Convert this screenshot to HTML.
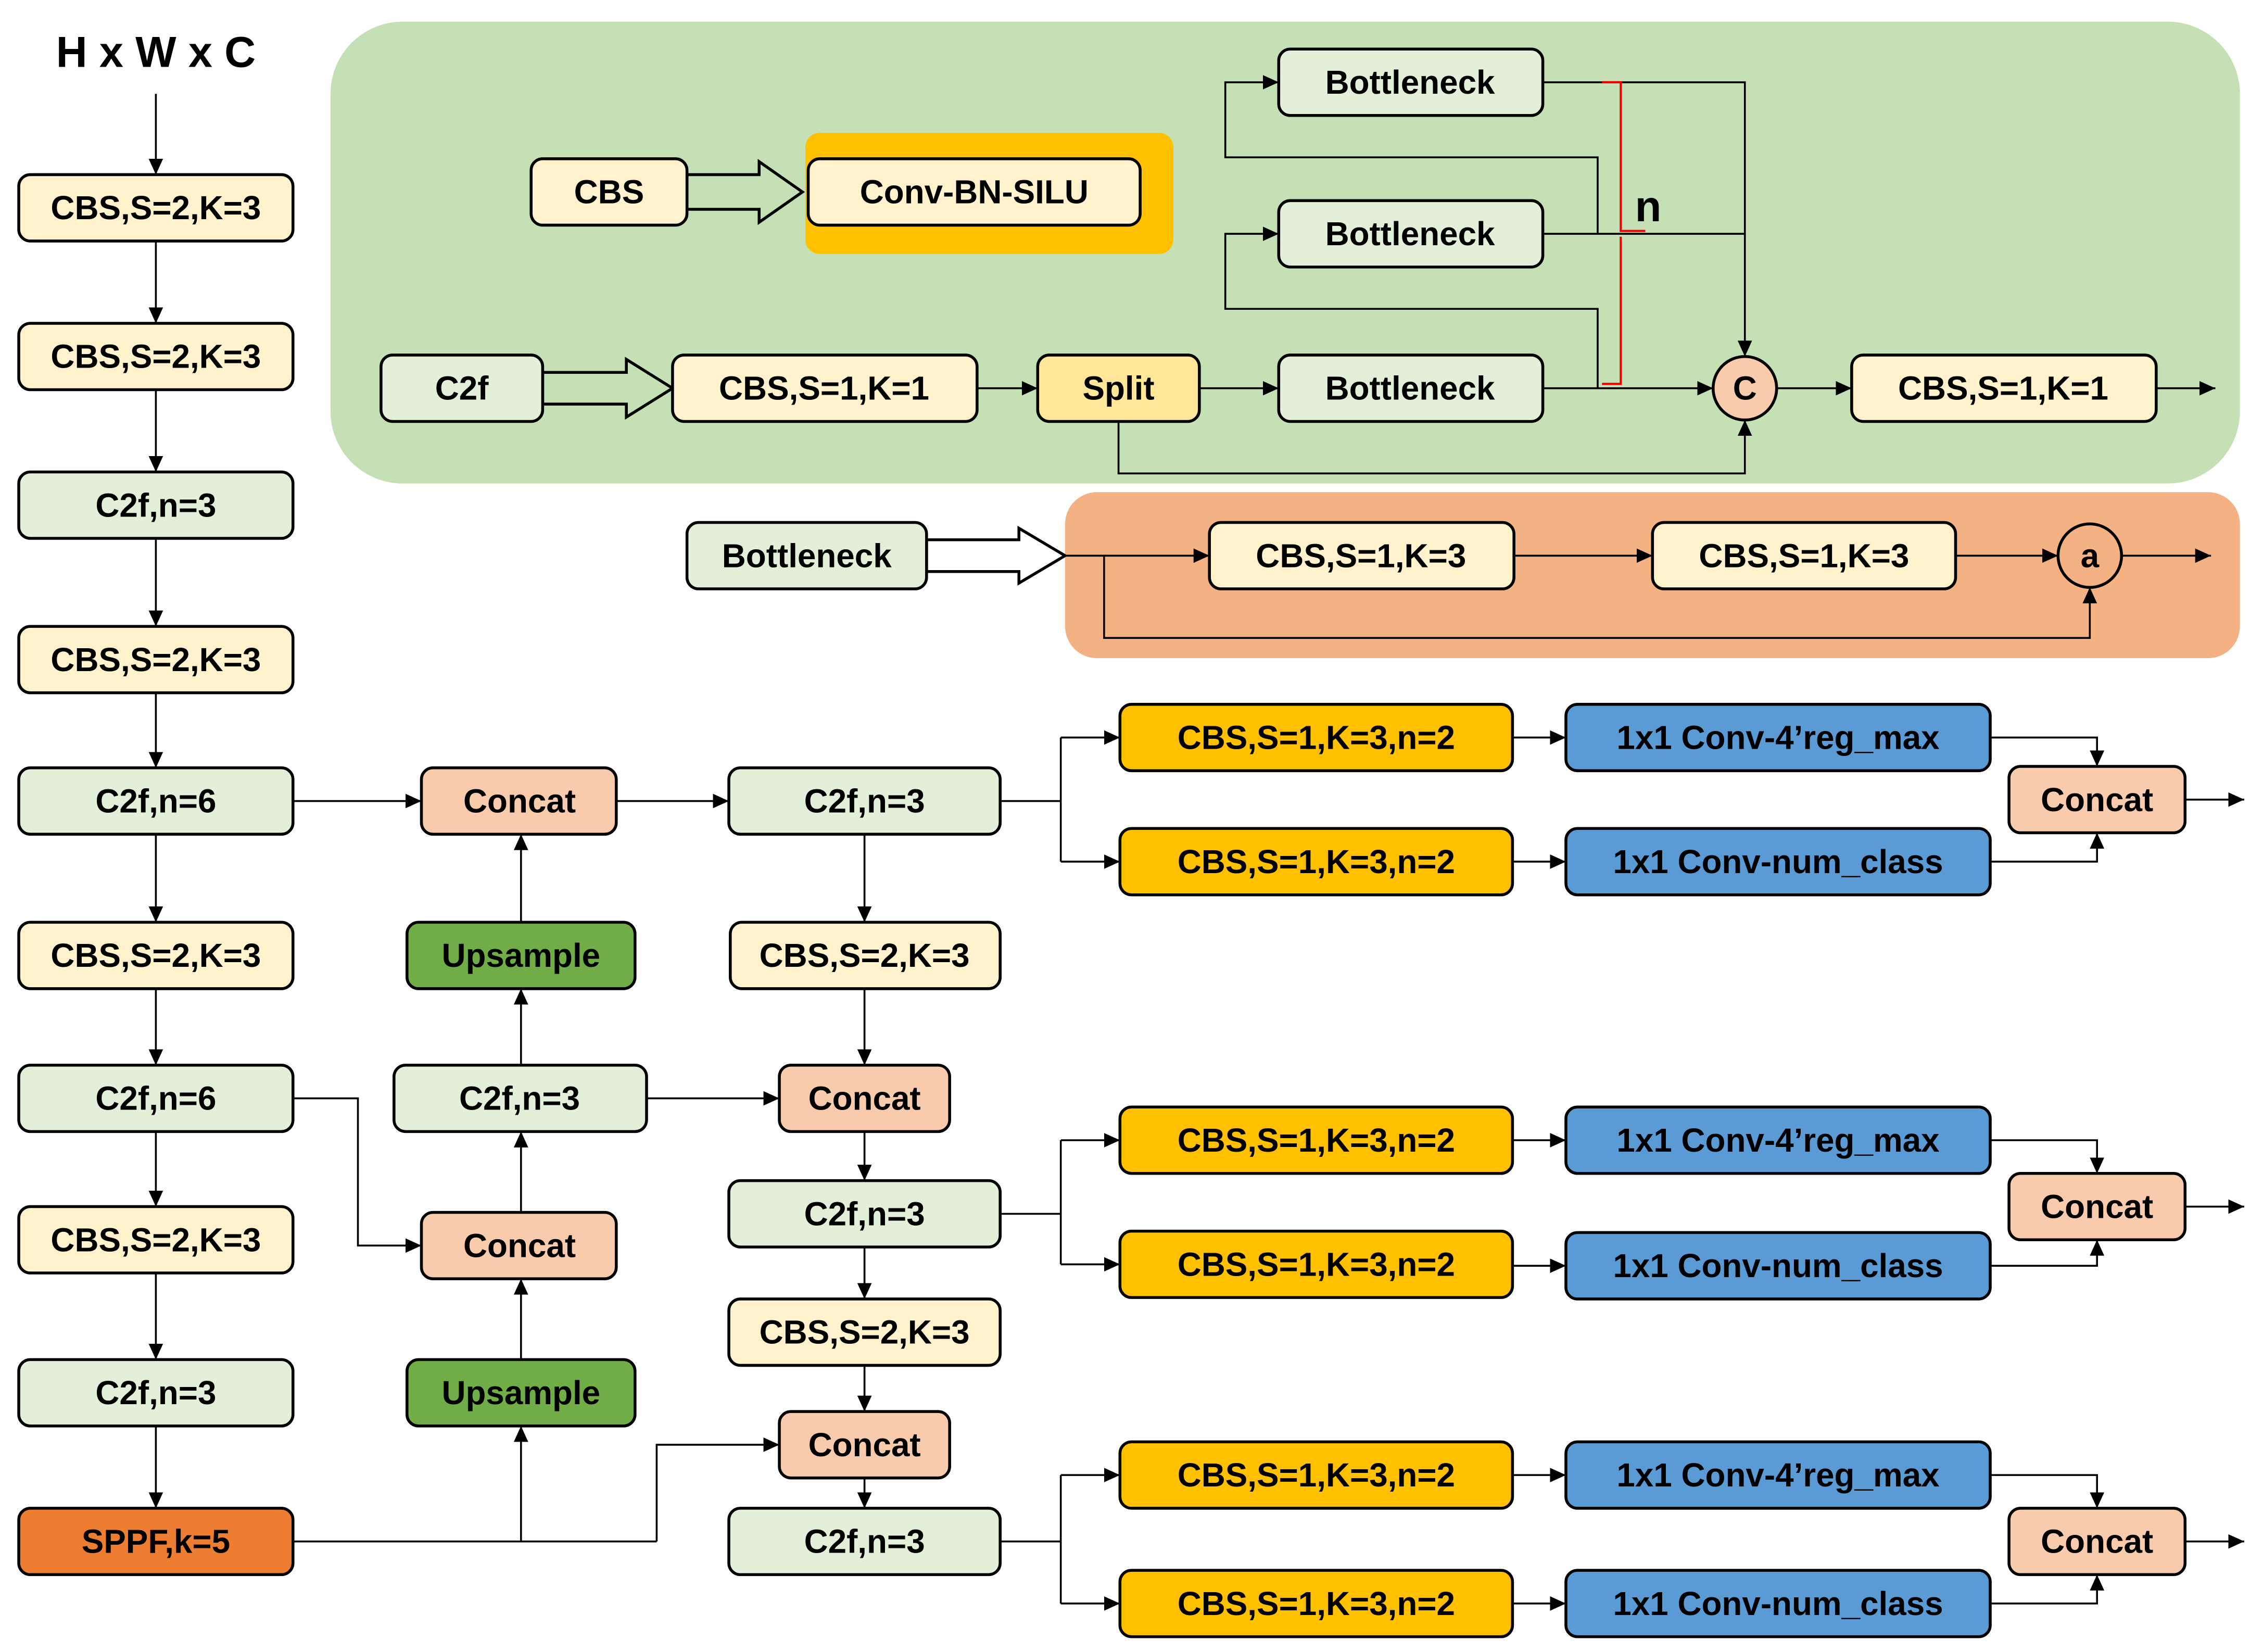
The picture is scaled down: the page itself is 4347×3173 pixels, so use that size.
<!DOCTYPE html>
<html><head><meta charset="utf-8"><style>
html,body{margin:0;padding:0;background:#fff;}
svg{display:block;}
text{font-family:"Liberation Sans",sans-serif;font-weight:bold;font-size:23px;fill:#000;text-anchor:middle;dominant-baseline:central;}
.b{stroke:#000;stroke-width:2;}
.l{stroke:#000;stroke-width:1.3;fill:none;}
</style></head><body>
<svg width="4347" height="3173" viewBox="0 0 1568 1144.6" preserveAspectRatio="none" xmlns="http://www.w3.org/2000/svg">
<defs>
<marker id="a" markerUnits="userSpaceOnUse" markerWidth="12" markerHeight="12" refX="11" refY="5" orient="auto"><path d="M0,0 L11,5 L0,10 z" fill="#000"/></marker>
</defs>
<rect width="1568" height="1145" fill="#fff"/>
<rect x="229" y="15" width="1323" height="320" rx="50" fill="#C5E0B4"/>
<rect x="738" y="341" width="814" height="115" rx="22" fill="#F4B183"/>
<rect x="558" y="92" width="255" height="84" rx="10" fill="#FFC000"/>

<text x="108" y="36" style="font-size:30px">H x W x C</text>

<g class="l">
<line x1="108" y1="65" x2="108" y2="121" marker-end="url(#a)"/>
<line x1="108" y1="167" x2="108" y2="224" marker-end="url(#a)"/>
<line x1="108" y1="270" x2="108" y2="327" marker-end="url(#a)"/>
<line x1="108" y1="373" x2="108" y2="434" marker-end="url(#a)"/>
<line x1="108" y1="480" x2="108" y2="532" marker-end="url(#a)"/>
<line x1="108" y1="578" x2="108" y2="639" marker-end="url(#a)"/>
<line x1="108" y1="685" x2="108" y2="738" marker-end="url(#a)"/>
<line x1="108" y1="784" x2="108" y2="836" marker-end="url(#a)"/>
<line x1="108" y1="882" x2="108" y2="942" marker-end="url(#a)"/>
<line x1="108" y1="988" x2="108" y2="1045" marker-end="url(#a)"/>
<line x1="677" y1="269" x2="719" y2="269" marker-end="url(#a)"/>
<line x1="831" y1="269" x2="886" y2="269" marker-end="url(#a)"/>
<line x1="1069" y1="269" x2="1187" y2="269" marker-end="url(#a)"/>
<polyline points="1069,57 1209,57 1209,247" marker-end="url(#a)"/>
<line x1="1069" y1="162" x2="1209" y2="162"/>
<polyline points="1107,162 1107,109 849,109 849,57 886,57" marker-end="url(#a)"/>
<polyline points="1107,269 1107,214 849,214 849,162 886,162" marker-end="url(#a)"/>
<polyline points="775,292 775,328 1209,328 1209,291" marker-end="url(#a)"/>
<line x1="1231" y1="269" x2="1283" y2="269" marker-end="url(#a)"/>
<line x1="1494" y1="269" x2="1535" y2="269" marker-end="url(#a)"/>
<line x1="738" y1="385" x2="838" y2="385" marker-end="url(#a)"/>
<line x1="1049" y1="385" x2="1145" y2="385" marker-end="url(#a)"/>
<line x1="1355" y1="385" x2="1426" y2="385" marker-end="url(#a)"/>
<line x1="1470" y1="385" x2="1532" y2="385" marker-end="url(#a)"/>
<polyline points="765,385 765,442 1448,442 1448,407" marker-end="url(#a)"/>
<line x1="203" y1="555" x2="292" y2="555" marker-end="url(#a)"/>
<line x1="427" y1="555" x2="505" y2="555" marker-end="url(#a)"/>
<line x1="361" y1="639" x2="361" y2="578" marker-end="url(#a)"/>
<line x1="361" y1="738" x2="361" y2="685" marker-end="url(#a)"/>
<line x1="448" y1="761" x2="540" y2="761" marker-end="url(#a)"/>
<polyline points="203,761 248,761 248,863 292,863" marker-end="url(#a)"/>
<line x1="361" y1="840" x2="361" y2="784" marker-end="url(#a)"/>
<line x1="361" y1="942" x2="361" y2="886" marker-end="url(#a)"/>
<line x1="203" y1="1068" x2="455" y2="1068"/>
<line x1="361" y1="1068" x2="361" y2="988" marker-end="url(#a)"/>
<polyline points="455,1068 455,1001 540,1001" marker-end="url(#a)"/>
<line x1="599" y1="578" x2="599" y2="639" marker-end="url(#a)"/>
<line x1="599" y1="685" x2="599" y2="738" marker-end="url(#a)"/>
<line x1="599" y1="784" x2="599" y2="818" marker-end="url(#a)"/>
<line x1="599" y1="864" x2="599" y2="900" marker-end="url(#a)"/>
<line x1="599" y1="946" x2="599" y2="978" marker-end="url(#a)"/>
<line x1="599" y1="1024" x2="599" y2="1045" marker-end="url(#a)"/>
<line x1="693" y1="555" x2="735" y2="555"/>
<line x1="735" y1="511" x2="735" y2="597"/>
<line x1="735" y1="511" x2="776" y2="511" marker-end="url(#a)"/>
<line x1="735" y1="597" x2="776" y2="597" marker-end="url(#a)"/>
<line x1="1048" y1="511" x2="1085" y2="511" marker-end="url(#a)"/>
<line x1="1048" y1="597" x2="1085" y2="597" marker-end="url(#a)"/>
<polyline points="1379,511 1453,511 1453,531" marker-end="url(#a)"/>
<polyline points="1379,597 1453,597 1453,577" marker-end="url(#a)"/>
<line x1="1514" y1="554" x2="1555" y2="554" marker-end="url(#a)"/>
<line x1="693" y1="841" x2="735" y2="841"/>
<line x1="735" y1="790" x2="735" y2="876"/>
<line x1="735" y1="790" x2="776" y2="790" marker-end="url(#a)"/>
<line x1="735" y1="876" x2="776" y2="876" marker-end="url(#a)"/>
<line x1="1048" y1="790" x2="1085" y2="790" marker-end="url(#a)"/>
<line x1="1048" y1="877" x2="1085" y2="877" marker-end="url(#a)"/>
<polyline points="1379,790 1453,790 1453,813" marker-end="url(#a)"/>
<polyline points="1379,877 1453,877 1453,859" marker-end="url(#a)"/>
<line x1="1514" y1="836" x2="1555" y2="836" marker-end="url(#a)"/>
<line x1="693" y1="1068" x2="735" y2="1068"/>
<line x1="735" y1="1022" x2="735" y2="1111"/>
<line x1="735" y1="1022" x2="776" y2="1022" marker-end="url(#a)"/>
<line x1="735" y1="1111" x2="776" y2="1111" marker-end="url(#a)"/>
<line x1="1048" y1="1022" x2="1085" y2="1022" marker-end="url(#a)"/>
<line x1="1048" y1="1111" x2="1085" y2="1111" marker-end="url(#a)"/>
<polyline points="1379,1022 1453,1022 1453,1045" marker-end="url(#a)"/>
<polyline points="1379,1111 1453,1111 1453,1091" marker-end="url(#a)"/>
<line x1="1514" y1="1068" x2="1555" y2="1068" marker-end="url(#a)"/>
</g>
<path d="M1110,57 L1123,57 L1123,160 L1140,160 M1123,164 L1123,266 L1110,266" stroke="#E00" stroke-width="1.5" fill="none"/>
<text x="1142" y="143" style="font-size:30px">n</text>

<g fill="#C5E0B4" stroke="#000" stroke-width="2">
<path d="M476,121 L526,121 L526,112 L556,133 L526,154 L526,145 L476,145 z"/>
<path d="M376,258 L434,258 L434,249 L466,269 L434,289 L434,280 L376,280 z"/>
</g>
<path d="M642,374 L706,374 L706,366 L738,385 L706,404 L706,396 L642,396 z" fill="#fff" stroke="#000" stroke-width="2"/>

<g class="b">
<rect x="13" y="121" width="190" height="46" rx="8" fill="#FFF2CC"/>
<rect x="13" y="224" width="190" height="46" rx="8" fill="#FFF2CC"/>
<rect x="13" y="327" width="190" height="46" rx="8" fill="#E2F0D9"/>
<rect x="13" y="434" width="190" height="46" rx="8" fill="#FFF2CC"/>
<rect x="13" y="532" width="190" height="46" rx="8" fill="#E2F0D9"/>
<rect x="13" y="639" width="190" height="46" rx="8" fill="#FFF2CC"/>
<rect x="13" y="738" width="190" height="46" rx="8" fill="#E2F0D9"/>
<rect x="13" y="836" width="190" height="46" rx="8" fill="#FFF2CC"/>
<rect x="13" y="942" width="190" height="46" rx="8" fill="#E2F0D9"/>
<rect x="13" y="1045" width="190" height="46" rx="8" fill="#ED7D31"/>
<rect x="368" y="110" width="108" height="46" rx="8" fill="#FFF2CC"/>
<rect x="560" y="110" width="230" height="46" rx="8" fill="#FFF2CC"/>
<rect x="886" y="34" width="183" height="46" rx="8" fill="#E2F0D9"/>
<rect x="886" y="139" width="183" height="46" rx="8" fill="#E2F0D9"/>
<rect x="886" y="246" width="183" height="46" rx="8" fill="#E2F0D9"/>
<rect x="264" y="246" width="112" height="46" rx="8" fill="#E2F0D9"/>
<rect x="466" y="246" width="211" height="46" rx="8" fill="#FFF2CC"/>
<rect x="719" y="246" width="112" height="46" rx="8" fill="#FFE699"/>
<circle cx="1209" cy="269" r="22" fill="#F8CBAD"/>
<rect x="1283" y="246" width="211" height="46" rx="8" fill="#FFF2CC"/>
<rect x="476" y="362" width="166" height="46" rx="8" fill="#E2F0D9"/>
<rect x="838" y="362" width="211" height="46" rx="8" fill="#FFF2CC"/>
<rect x="1145" y="362" width="210" height="46" rx="8" fill="#FFF2CC"/>
<circle cx="1448" cy="385" r="22" fill="#F4B183"/>
<rect x="292" y="532" width="135" height="46" rx="8" fill="#F8CBAD"/>
<rect x="282" y="639" width="158" height="46" rx="8" fill="#70AD47"/>
<rect x="273" y="738" width="175" height="46" rx="8" fill="#E2F0D9"/>
<rect x="292" y="840" width="135" height="46" rx="8" fill="#F8CBAD"/>
<rect x="282" y="942" width="158" height="46" rx="8" fill="#70AD47"/>
<rect x="505" y="532" width="188" height="46" rx="8" fill="#E2F0D9"/>
<rect x="506" y="639" width="187" height="46" rx="8" fill="#FFF2CC"/>
<rect x="540" y="738" width="118" height="46" rx="8" fill="#F8CBAD"/>
<rect x="505" y="818" width="188" height="46" rx="8" fill="#E2F0D9"/>
<rect x="505" y="900" width="188" height="46" rx="8" fill="#FFF2CC"/>
<rect x="540" y="978" width="118" height="46" rx="8" fill="#F8CBAD"/>
<rect x="505" y="1045" width="188" height="46" rx="8" fill="#E2F0D9"/>
<rect x="776" y="488" width="272" height="46" rx="8" fill="#FFC000"/>
<rect x="776" y="574" width="272" height="46" rx="8" fill="#FFC000"/>
<rect x="776" y="767" width="272" height="46" rx="8" fill="#FFC000"/>
<rect x="776" y="853" width="272" height="46" rx="8" fill="#FFC000"/>
<rect x="776" y="999" width="272" height="46" rx="8" fill="#FFC000"/>
<rect x="776" y="1088" width="272" height="46" rx="8" fill="#FFC000"/>
<rect x="1085" y="488" width="294" height="46" rx="8" fill="#5B9BD5"/>
<rect x="1085" y="574" width="294" height="46" rx="8" fill="#5B9BD5"/>
<rect x="1085" y="767" width="294" height="46" rx="8" fill="#5B9BD5"/>
<rect x="1085" y="854" width="294" height="46" rx="8" fill="#5B9BD5"/>
<rect x="1085" y="999" width="294" height="46" rx="8" fill="#5B9BD5"/>
<rect x="1085" y="1088" width="294" height="46" rx="8" fill="#5B9BD5"/>
<rect x="1392" y="531" width="122" height="46" rx="8" fill="#F8CBAD"/>
<rect x="1392" y="813" width="122" height="46" rx="8" fill="#F8CBAD"/>
<rect x="1392" y="1045" width="122" height="46" rx="8" fill="#F8CBAD"/>
</g>

<text x="108" y="144">CBS,S=2,K=3</text>
<text x="108" y="247">CBS,S=2,K=3</text>
<text x="108" y="350">C2f,n=3</text>
<text x="108" y="457">CBS,S=2,K=3</text>
<text x="108" y="555">C2f,n=6</text>
<text x="108" y="662">CBS,S=2,K=3</text>
<text x="108" y="761">C2f,n=6</text>
<text x="108" y="859">CBS,S=2,K=3</text>
<text x="108" y="965">C2f,n=3</text>
<text x="108" y="1068">SPPF,k=5</text>
<text x="422" y="133">CBS</text>
<text x="675" y="133">Conv-BN-SILU</text>
<text x="977" y="57">Bottleneck</text>
<text x="977" y="162">Bottleneck</text>
<text x="977" y="269">Bottleneck</text>
<text x="320" y="269">C2f</text>
<text x="571" y="269">CBS,S=1,K=1</text>
<text x="775" y="269">Split</text>
<text x="1209" y="269">C</text>
<text x="1388" y="269">CBS,S=1,K=1</text>
<text x="559" y="385">Bottleneck</text>
<text x="943" y="385">CBS,S=1,K=3</text>
<text x="1250" y="385">CBS,S=1,K=3</text>
<text x="1448" y="385">a</text>
<text x="360" y="555">Concat</text>
<text x="361" y="662">Upsample</text>
<text x="360" y="761">C2f,n=3</text>
<text x="360" y="863">Concat</text>
<text x="361" y="965">Upsample</text>
<text x="599" y="555">C2f,n=3</text>
<text x="599" y="662">CBS,S=2,K=3</text>
<text x="599" y="761">Concat</text>
<text x="599" y="841">C2f,n=3</text>
<text x="599" y="923">CBS,S=2,K=3</text>
<text x="599" y="1001">Concat</text>
<text x="599" y="1068">C2f,n=3</text>
<text x="912" y="511">CBS,S=1,K=3,n=2</text>
<text x="912" y="597">CBS,S=1,K=3,n=2</text>
<text x="912" y="790">CBS,S=1,K=3,n=2</text>
<text x="912" y="876">CBS,S=1,K=3,n=2</text>
<text x="912" y="1022">CBS,S=1,K=3,n=2</text>
<text x="912" y="1111">CBS,S=1,K=3,n=2</text>
<text x="1232" y="511">1x1 Conv-4’reg_max</text>
<text x="1232" y="597">1x1 Conv-num_class</text>
<text x="1232" y="790">1x1 Conv-4’reg_max</text>
<text x="1232" y="877">1x1 Conv-num_class</text>
<text x="1232" y="1022">1x1 Conv-4’reg_max</text>
<text x="1232" y="1111">1x1 Conv-num_class</text>
<text x="1453" y="554">Concat</text>
<text x="1453" y="836">Concat</text>
<text x="1453" y="1068">Concat</text>
</svg>
</body></html>
